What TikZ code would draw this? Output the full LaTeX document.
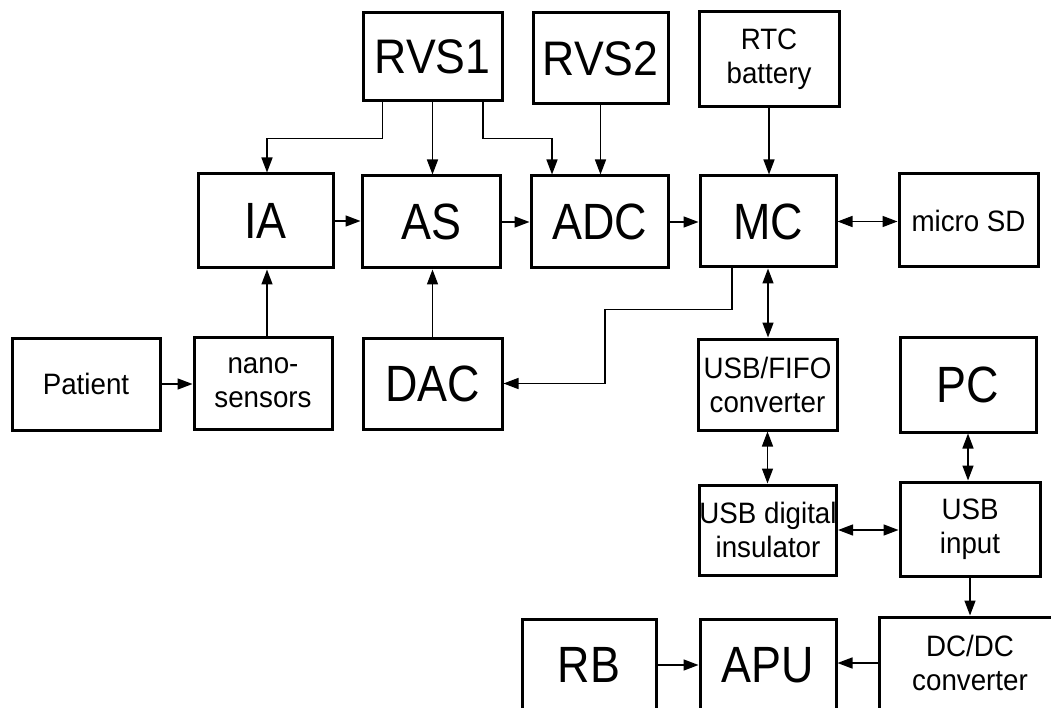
\documentclass[tikz,border=0pt]{standalone}
\usepackage{fontspec}
\setmainfont{Liberation Sans}[FakeStretch=0.88]
\newfontfamily\smallfam{Liberation Sans}[FakeStretch=0.94]
\newfontfamily\midfam{Liberation Sans}[FakeStretch=0.92]
\usetikzlibrary{arrows.meta,calc}
\tikzset{
  blk/.style={draw, line width=3pt, inner sep=0pt, align=center},
  big/.style={font=\fontsize{51}{56}\selectfont},
  mid/.style={font=\midfam\fontsize{48.5}{54}\selectfont},
  small/.style={font=\smallfam\fontsize{29.5}{34}\selectfont},
  conn/.style={line width=1.5pt, -{Triangle[length=15pt,width=11pt]}},
  conn2/.style={line width=1.5pt, {Triangle[length=15pt,width=11pt]}-{Triangle[length=15pt,width=11pt]}},
}
\newcommand{\bx}[7]{% name, x1, y1, x2, y2, style, text
  \node[blk,#6,minimum width={(#4-#2)*1pt},minimum height={(#5-#3)*1pt}] (#1) at ({(#2+#4)/2},{(#3+#5)/2}) {#7};}
\begin{document}
\begin{tikzpicture}[x=1pt,y=-1pt]
\useasboundingbox (0,0) rectangle (1051,708);
\clip (0,0) rectangle (1051,708);
\fill[white] (0,0) rectangle (1051,708);
% boxes
\bx{rvs1}{363}{13}{502}{101}{mid}{RVS1}
\bx{rvs2}{533}{13}{668}{104}{mid}{RVS2}
\bx{rtc}{699}{12}{839}{107}{small}{RTC\\battery}
\bx{ia}{198}{174}{333}{268}{big}{IA}
\bx{as}{362}{176}{500}{268}{big}{AS}
\bx{adc}{531}{176}{668}{268}{big}{ADC}
\bx{mc}{700}{176}{836}{267}{big}{MC}
\bx{msd}{899}{174}{1038}{267}{small}{micro SD}
\bx{pat}{12}{338}{160}{430}{small}{Patient}
\bx{nano}{194}{337}{332}{429}{small}{nano-\\sensors}
\bx{dac}{363}{338}{502}{429}{big}{DAC}
\bx{fifo}{698}{339}{837}{430}{small}{USB/FIFO\\converter}
\bx{pc}{900}{337}{1036}{432}{big}{PC}
\bx{ins}{700}{485}{836}{575}{small}{USB digital\\insulator}
\bx{inp}{900}{482}{1040}{576}{small}{USB\\input}
\bx{rb}{522}{619}{656}{711}{big}{RB}
\bx{apu}{700}{619}{836}{711}{big}{APU}
\bx{dcdc}{879}{617}{1061}{709}{small}{DC/DC\\converter}
% connectors
\draw[conn] ([xshift=-50pt]rvs1.south) -- ++(0,36) -| ([xshift=1.5pt]ia.north);
\draw[conn] (rvs1.south) -- (rvs1.south |- as.north);
\draw[conn] ([xshift=50.5pt]rvs1.south) -- ++(0,36) -| ([xshift=-47.5pt]adc.north);
\draw[conn] (rvs2.south) -- (rvs2.south |- adc.north);
\draw[conn] (rtc.south) -- (rtc.south |- mc.north);
\draw[conn] (ia.east) -- (as.west |- ia.east);
\draw[conn] (as.east) -- (adc.west |- as.east);
\draw[conn] (adc.east) -- (mc.west |- adc.east);
\draw[conn2] (mc.east) -- (msd.west |- mc.east);
\draw[conn] ([xshift=1.5pt]ia.south |- nano.north) -- ([xshift=1.5pt]ia.south);
\draw[conn] (pat.east) -- (nano.west |- pat.east);
\draw[conn] (dac.north) -- (dac.north |- as.south);
\draw[conn] ([xshift=-36pt]mc.south) -- ++(0,41) -- ++(-127,0) |- (dac.east);
\draw[conn2] (mc.south) -- (mc.south |- fifo.north);
\draw[conn2] (fifo.south) -- (fifo.south |- ins.north);
\draw[conn2] (pc.south) -- (pc.south |- inp.north);
\draw[conn2] (ins.east) -- (inp.west |- ins.east);
\draw[conn] (inp.south) -- (inp.south |- dcdc.north);
\draw[conn] (rb.east) -- (apu.west |- rb.east);
\draw[conn] (dcdc.west) -- (apu.east |- dcdc.west);
\end{tikzpicture}
\end{document}
